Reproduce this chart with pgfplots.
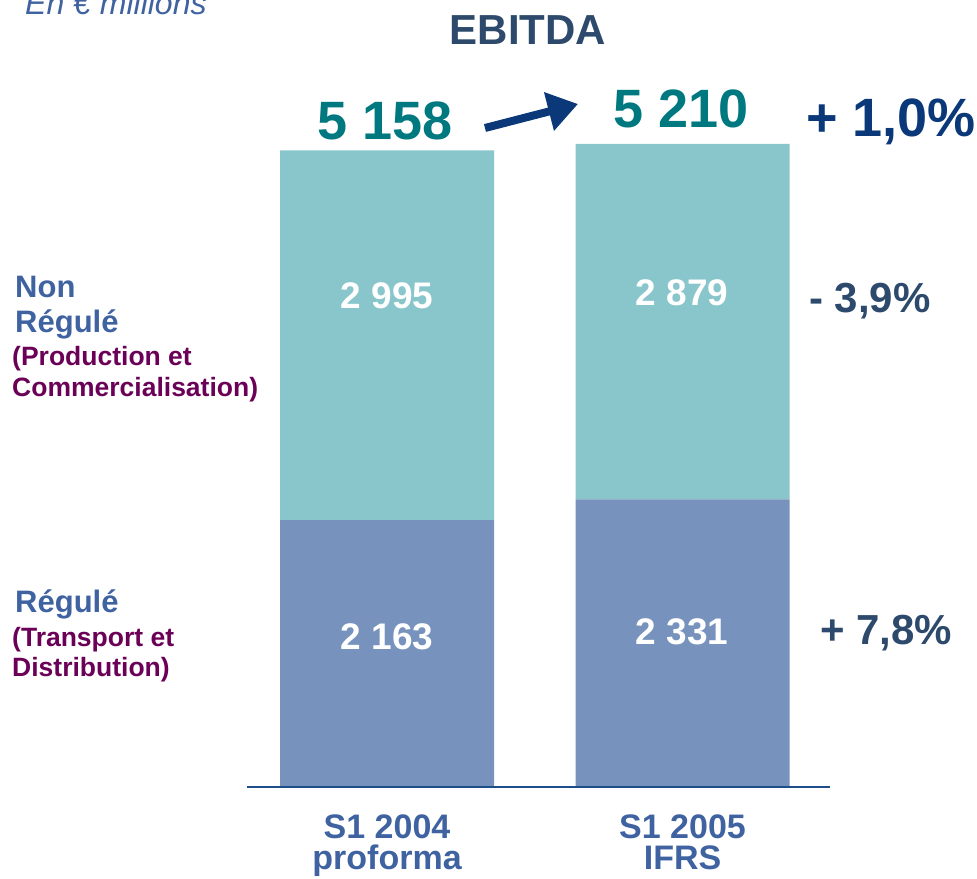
\documentclass[border=0pt]{standalone}
\usepackage{fontspec}
\setmainfont{Liberation Sans}
\usepackage{pgfplots}
\pgfplotsset{compat=1.18}
\usetikzlibrary{arrows.meta}
\definecolor{tealbar}{HTML}{88C6CC}
\definecolor{bluebar}{HTML}{7792BC}
\definecolor{tealnum}{HTML}{00787F}
\definecolor{navy}{HTML}{0A3878}
\definecolor{lblblue}{HTML}{3F62A0}
\definecolor{purp}{HTML}{6B0057}
\definecolor{slate}{HTML}{2D4A6C}
\definecolor{axisblue}{HTML}{1E4E8A}
\newcommand{\fs}[1]{\fontsize{#1}{#1}\selectfont}
\begin{document}
\begin{tikzpicture}
\useasboundingbox (0pt,0pt) rectangle (977pt,878pt);
\begin{axis}[
  at={(247pt,91pt)}, anchor=south west, scale only axis,
  width=583pt, height=643pt,
  xmin=-0.474, xmax=1.499, ymin=0, ymax=5210,
  ybar stacked, bar width=0.724,
  axis x line*=bottom, hide y axis,
  x axis line style={draw=axisblue, line width=2pt},
  xtick={0,1}, xticklabels={{S1 2004\\proforma},{S1 2005\\IFRS}},
  major tick length=0pt,
  xticklabel style={font=\bfseries\fontsize{34}{31}\selectfont, align=center, text=lblblue, yshift=-28pt, inner sep=0pt},
  axis on top, clip=false,
]
\addplot[fill=bluebar, draw=none] coordinates {(0,2163) (1,2331)};
\addplot[fill=tealbar, draw=none] coordinates {(0,2995) (1,2879)};
\end{axis}
% title and unit
\node[anchor=base, text=slate, font=\bfseries\fs{42}] at (528pt,833pt) {EBITDA};
\node[anchor=base west, text=lblblue, font=\itshape\fs{32}, inner sep=0pt] at (25pt,863pt) {En € millions};
% totals
\node[anchor=base, text=tealnum, font=\bfseries\fs{54}] at (385pt,738pt) {5 158};
\node[anchor=base, text=tealnum, font=\bfseries\fs{54}] at (681pt,750pt) {5 210};
\node[anchor=base, text=navy, font=\bfseries\fs{54}] at (891pt,741pt) {+ 1,0\%};
\draw[navy, line width=8pt, -{Triangle[length=30pt,width=38pt]}] (485pt,750pt) -- (578pt,774pt);
% values inside bars
\node[anchor=base, text=white, font=\bfseries\fs{37}] at (387pt,569pt) {2 995};
\node[anchor=base, text=white, font=\bfseries\fs{37}] at (682pt,572pt) {2 879};
\node[anchor=base, text=white, font=\bfseries\fs{37}] at (387pt,228pt) {2 163};
\node[anchor=base, text=white, font=\bfseries\fs{37}] at (682pt,233pt) {2 331};
% percentages
\node[anchor=base, text=slate, font=\bfseries\fs{42}] at (870pt,565pt) {- 3,9\%};
\node[anchor=base, text=slate, font=\bfseries\fs{42}] at (886pt,233pt) {+ 7,8\%};
% left labels
\node[anchor=base west, inner sep=0pt, text=lblblue, font=\bfseries\fs{31}] at (15pt,580pt) {Non};
\node[anchor=base west, inner sep=0pt, text=lblblue, font=\bfseries\fs{31}] at (15pt,545pt) {Régulé};
\node[anchor=base west, inner sep=0pt, text=purp, font=\bfseries\fs{26.5}] at (12pt,512pt) {(Production et};
\node[anchor=base west, inner sep=0pt, text=purp, font=\bfseries\fs{26.5}] at (12pt,481pt) {Commercialisation)};
\node[anchor=base west, inner sep=0pt, text=lblblue, font=\bfseries\fs{31}] at (15pt,265pt) {Régulé};
\node[anchor=base west, inner sep=0pt, text=purp, font=\bfseries\fs{26.5}] at (12pt,231pt) {(Transport et};
\node[anchor=base west, inner sep=0pt, text=purp, font=\bfseries\fs{26.5}] at (12pt,201pt) {Distribution)};
\end{tikzpicture}
\end{document}
